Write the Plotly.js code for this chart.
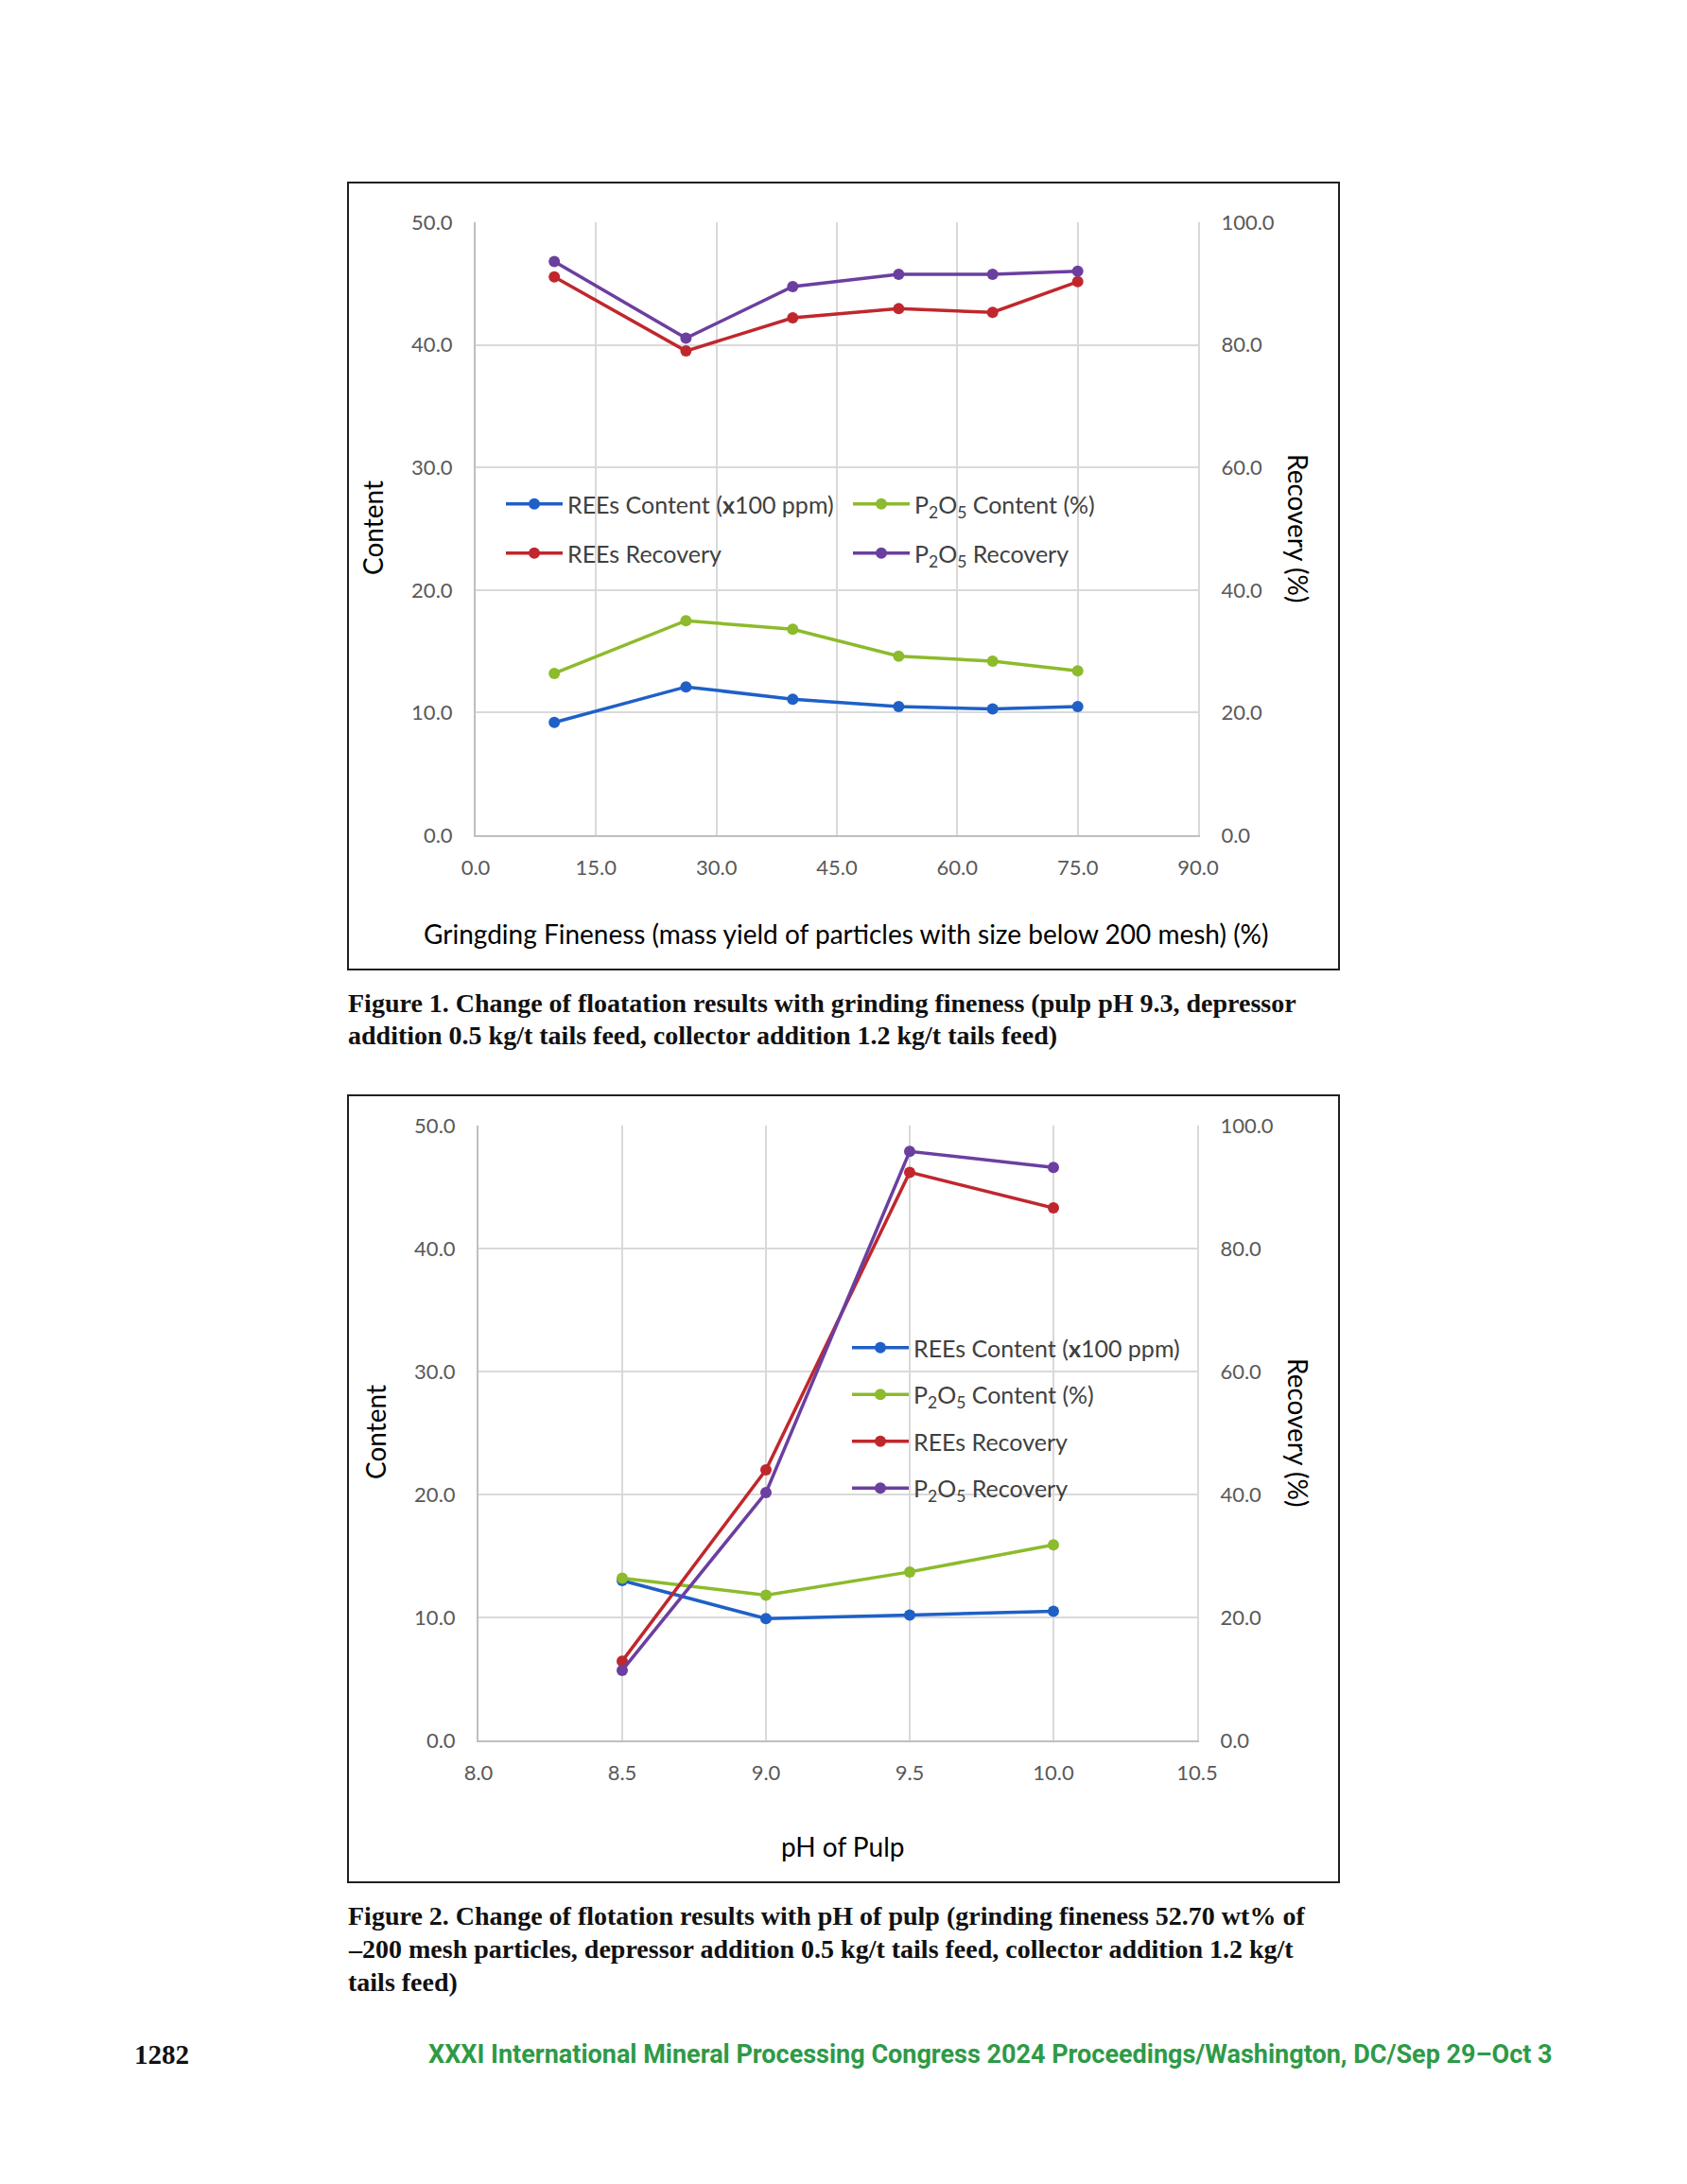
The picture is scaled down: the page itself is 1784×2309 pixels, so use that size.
<!DOCTYPE html>
<html>
<head>
<meta charset="utf-8">
<script src="https://cdn.plot.ly/plotly-3.0.1.min.js"></script>
<style>
  html, body { margin: 0; padding: 0; background: #ffffff; }
  #fig { width: 1784px; height: 2309px; }
</style>
</head>
<body>
<div id="fig"></div>
<script>
// ---------------- data ----------------
const fineness = [9.8, 26.2, 39.5, 52.7, 64.4, 75.0];
const reesContent1 = [9.2, 12.1, 11.1, 10.5, 10.3, 10.5];
const p2o5Content1 = [13.2, 17.5, 16.8, 14.6, 14.2, 13.4];
const reesRecovery1 = [91.1, 79.0, 84.4, 85.9, 85.3, 90.3];
const p2o5Recovery1 = [93.6, 81.1, 89.5, 91.5, 91.5, 92.0];

const phValues = [8.5, 9.0, 9.5, 10.0];
const reesContent2 = [13.0, 9.9, 10.2, 10.5];
const p2o5Content2 = [13.2, 11.8, 13.7, 15.9];
const reesRecovery2 = [12.9, 44.0, 92.4, 86.6];
const p2o5Recovery2 = [11.4, 40.3, 95.8, 93.2];

const seriesNames = [
  'REEs Content (<b>x</b>100 ppm)',
  'P<sub>2</sub>O<sub>5</sub> Content (%)',
  'REEs Recovery',
  'P<sub>2</sub>O<sub>5</sub> Recovery'
];
const xTitle1 = 'Gringding Fineness (mass yield of particles with size below 200 mesh) (%)';
const xTitle2 = 'pH of Pulp';
const yTitleLeft = 'Content';
const yTitleRight = 'Recovery (%)';
const caption1 = [
  'Figure 1. Change of floatation results with grinding fineness (pulp pH 9.3, depressor',
  'addition 0.5 kg/t tails feed, collector addition 1.2 kg/t tails feed)'
];
const caption2 = [
  'Figure 2. Change of flotation results with pH of pulp (grinding fineness 52.70 wt% of',
  '\u2013200 mesh particles, depressor addition 0.5 kg/t tails feed, collector addition 1.2 kg/t',
  'tails feed)'
];
const pageNumber = '1282';
const footerText = 'XXXI International Mineral Processing Congress 2024 Proceedings/Washington, DC/Sep 29\u2013Oct 3';

// ---------------- styling ----------------
const W = 1784, H = 2309;
const X = px => px / W;
const Y = py => 1 - py / H;
const colors = ['#1f60c6', '#8cbb2c', '#c0272d', '#6b3fa0'];
const FONT = 'Lato, "Open Sans", sans-serif';

function tr(x, y, i, xa, ya, leg, grp) {
  const t = {
    x: x, y: y, type: 'scatter', mode: 'lines+markers',
    name: seriesNames[i], xaxis: xa, yaxis: ya, legend: leg,
    line: { color: colors[i], width: 3.5 },
    marker: { color: colors[i], size: 12, symbol: 'circle' },
    hoverinfo: 'skip'
  };
  if (grp) t.legendgroup = grp;
  return t;
}

const data = [
  tr(fineness, reesContent1, 0, 'x', 'y', 'legend'),
  tr(fineness, p2o5Content1, 1, 'x', 'y', 'legend'),
  tr(fineness, reesRecovery1, 2, 'x', 'y2', 'legend2'),
  tr(fineness, p2o5Recovery1, 3, 'x', 'y2', 'legend2'),
  tr(phValues, reesContent2, 0, 'x2', 'y3', 'legend3', 'g1'),
  tr(phValues, p2o5Content2, 1, 'x2', 'y3', 'legend3', 'g2'),
  tr(phValues, reesRecovery2, 2, 'x2', 'y4', 'legend3', 'g3'),
  tr(phValues, p2o5Recovery2, 3, 'x2', 'y4', 'legend3', 'g4')
];

const tickFont = { family: FONT, size: 22, color: '#595959' };
const gridC = '#d9d9d9';

function xAxis(domain, range, dtick, anchor) {
  return {
    domain: domain, range: range, dtick: dtick, tick0: range[0],
    tickformat: '.1f', anchor: anchor, showgrid: true, gridcolor: gridC, gridwidth: 2,
    zeroline: false, showline: true, linecolor: '#bfbfbf', linewidth: 2, mirror: false,
    ticks: '', tickfont: tickFont, ticklabelstandoff: 14, fixedrange: true
  };
}
function yLeft(domain, anchor) {
  return {
    domain: domain, range: [0, 50], dtick: 10, tick0: 0, tickformat: '.1f', anchor: anchor,
    showgrid: true, gridcolor: gridC, gridwidth: 2, zeroline: false,
    showline: true, linecolor: '#bfbfbf', linewidth: 2,
    ticks: '', tickfont: tickFont, ticklabelstandoff: 18, fixedrange: true
  };
}
function yRight(overlay, anchor) {
  return {
    overlaying: overlay, side: 'right', anchor: anchor, range: [0, 100], dtick: 20, tick0: 0,
    tickformat: '.1f', showgrid: false, zeroline: false,
    showline: true, linecolor: gridC, linewidth: 2,
    ticks: '', tickfont: tickFont, ticklabelstandoff: 18, fixedrange: true
  };
}

const legFont = { family: FONT, size: 25, color: '#404040' };
function legendBase(x, y) {
  return {
    x: x, y: y, xanchor: 'left', yanchor: 'middle', orientation: 'h',
    bgcolor: 'rgba(0,0,0,0)', borderwidth: 0, font: legFont,
    entrywidth: 292, entrywidthmode: 'pixels', itemwidth: 60, itemclick: false, itemdoubleclick: false
  };
}

function ann(text, px, py, opts) {
  return Object.assign({
    text: text, x: X(px), y: Y(py), xref: 'paper', yref: 'paper',
    showarrow: false, xanchor: 'center', yanchor: 'middle'
  }, opts || {});
}

const titleFont = { family: FONT, size: 28, color: '#000000' };
const capFont = { family: '"Liberation Serif", "DejaVu Serif", serif', size: 28, color: '#111111' };

const annotations = [
  ann(yTitleLeft, 394, 558, { textangle: -90, font: titleFont }),
  ann(yTitleRight, 1373, 558, { textangle: 90, font: titleFont }),
  ann(xTitle1, 895, 987, { font: titleFont }),
  ann(yTitleLeft, 397, 1514, { textangle: -90, font: titleFont }),
  ann(yTitleRight, 1373, 1514, { textangle: 90, font: titleFont }),
  ann(xTitle2, 891, 1952, { font: titleFont }),
  ann('<b>' + caption1[0] + '</b>', 366, 1060, { xanchor: 'left', font: capFont }),
  ann('<b>' + caption1[1] + '</b>', 366, 1094, { xanchor: 'left', font: capFont }),
  ann('<b>' + caption2[0] + '</b>', 366, 2025, { xanchor: 'left', font: capFont }),
  ann('<b>' + caption2[1] + '</b>', 366, 2060, { xanchor: 'left', font: capFont }),
  ann('<b>' + caption2[2] + '</b>', 366, 2095, { xanchor: 'left', font: capFont }),
  ann('<b>' + pageNumber + '</b>', 140, 2172, { xanchor: 'left', font: { family: '"Liberation Serif", serif', size: 29, color: '#111111' } }),
  ann('<b>' + footerText + '</b>', 1644, 2172, { xanchor: 'right', font: { family: 'Roboto, sans-serif', size: 27, color: '#2e9a47' } })
];

const frameLine = { color: '#231f20', width: 2 };
const shapes = [
  { type: 'rect', xref: 'paper', yref: 'paper', x0: X(368), x1: X(1416), y0: Y(1025), y1: Y(193), line: frameLine, fillcolor: 'rgba(0,0,0,0)' },
  { type: 'rect', xref: 'paper', yref: 'paper', x0: X(368), x1: X(1416), y0: Y(1990), y1: Y(1158), line: frameLine, fillcolor: 'rgba(0,0,0,0)' }
];

const layout = {
  width: W, height: H,
  margin: { l: 0, r: 0, t: 0, b: 0, pad: 0 },
  paper_bgcolor: '#ffffff', plot_bgcolor: '#ffffff',
  font: { family: FONT },
  showlegend: true,
  xaxis: xAxis([X(503), X(1267)], [0, 90], 15, 'y'),
  yaxis: yLeft([Y(883), Y(235)], 'x'),
  yaxis2: yRight('y', 'x'),
  xaxis2: xAxis([X(506), X(1266)], [8, 10.5], 0.5, 'y3'),
  yaxis3: yLeft([Y(1840), Y(1190)], 'x2'),
  yaxis4: yRight('y3', 'x2'),
  legend: legendBase(X(530), Y(533)),
  legend2: legendBase(X(530), Y(585)),
  legend3: {
    x: X(896), y: Y(1402), xanchor: 'left', yanchor: 'top', orientation: 'v',
    bgcolor: 'rgba(0,0,0,0)', borderwidth: 0, font: legFont, itemwidth: 60,
    traceorder: 'grouped', tracegroupgap: 14, itemclick: false, itemdoubleclick: false
  },
  annotations: annotations,
  shapes: shapes
};

Plotly.newPlot('fig', data, layout, { staticPlot: true, displayModeBar: false });
</script>
</body>
</html>
